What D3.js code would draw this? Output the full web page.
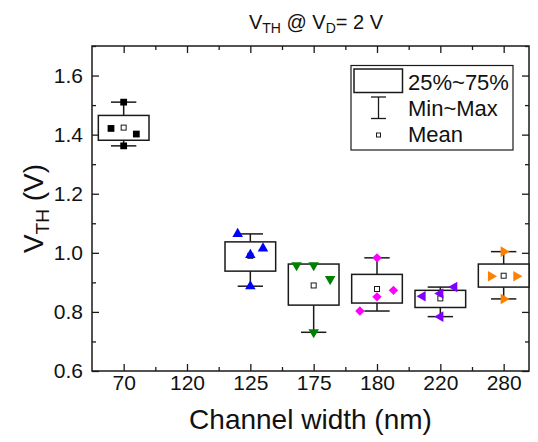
<!DOCTYPE html>
<html>
<head>
<meta charset="utf-8">
<script src="https://cdn.jsdelivr.net/npm/d3@7"></script>
<style>
  body { margin: 0; background: #fff; }
  svg { display: block; font-family: Arial, "Liberation Sans", sans-serif; }
</style>
</head>
<body>
<svg id="chart" width="538" height="442"></svg>
<script>
// ---- data ----
const categories = ["70", "120", "125", "175", "180", "220", "280"];
const vth70  = [1.510, 1.421, 1.402, 1.362];
const vth120 = [];
const vth125 = [1.064, 0.993, 1.015, 0.887];
const vth175 = [0.958, 0.958, 0.911, 0.731];
const vth180 = [0.983, 0.803, 0.851, 0.873];
const vth220 = [0.884, 0.853, 0.862, 0.784];
const vth280 = [1.004, 0.921, 0.921, 0.844];
// horizontal spread of the points inside a box (in category units)
const jitter70  = [0, -0.2, 0.2, 0];
const jitter120 = [];
const jitter125 = [-0.2, 0, 0.2, 0];
const jitter175 = [-0.27, 0, 0.26, 0];
const jitter180 = [0, -0.27, 0, 0.26];
const jitter220 = [0.22, -0.28, 0, 0];
const jitter280 = [0, -0.2, 0.2, 0];
// box edges (25% and 75%)
const q25 = [1.381, null, 0.938, 0.823, 0.830, 0.815, 0.884];
const q75 = [1.465, null, 1.037, 0.962, 0.927, 0.873, 0.962];
const yTicks = [0.6, 0.8, 1.0, 1.2, 1.4, 1.6];
const legendLabels = ["25%~75%", "Min~Max", "Mean"];

const seriesValues = [vth70, vth120, vth125, vth175, vth180, vth220, vth280];
const seriesJitter = [jitter70, jitter120, jitter125, jitter175, jitter180, jitter220, jitter280];
const colors = ["#000000", "#000000", "#0000ff", "#008000", "#ff00ff", "#8000ff", "#ff8000"];
const shapes = ["square", "square", "up", "down", "diamond", "left", "right"];

// ---- layout ----
const svg = d3.select("#chart");
const L = 92, R = 529, T = 46, B = 371;
const x = d3.scaleLinear().domain([0.5, 7.4]).range([L, R]);
const y = d3.scaleLinear().domain([0.6, 1.7]).range([B, T]);
const lineCol = "#1a1a1a";

// frame
svg.append("rect").attr("x", L).attr("y", T).attr("width", R - L).attr("height", B - T)
  .attr("fill", "none").attr("stroke", lineCol).attr("stroke-width", 1.5);

const idx = categories.map((d, i) => i + 1);
const minorX = d3.range(1.5, 7.4, 1);
const minorY = [0.7, 0.9, 1.1, 1.3, 1.5, 1.7];

function styleAxis(g) {
  g.select(".domain").remove();
  g.selectAll(".tick line").attr("stroke", lineCol).attr("stroke-width", 1.3);
  g.selectAll("text").attr("fill", "#111").attr("font-size", 21);
}

// bottom
svg.append("g").attr("transform", `translate(0,${B})`)
  .call(d3.axisBottom(x).tickValues(idx).tickFormat(i => categories[i - 1]).tickSize(-7).tickPadding(4))
  .call(styleAxis);
svg.append("g").attr("transform", `translate(0,${B})`)
  .call(d3.axisBottom(x).tickValues(minorX).tickFormat("").tickSize(-4)).call(styleAxis);
// top
svg.append("g").attr("transform", `translate(0,${T})`)
  .call(d3.axisTop(x).tickValues(idx).tickFormat("").tickSize(-7)).call(styleAxis);
svg.append("g").attr("transform", `translate(0,${T})`)
  .call(d3.axisTop(x).tickValues(minorX).tickFormat("").tickSize(-4)).call(styleAxis);
// left
svg.append("g").attr("transform", `translate(${L},0)`)
  .call(d3.axisLeft(y).tickValues(yTicks).tickFormat(d3.format(".1f")).tickSize(-7).tickPadding(9))
  .call(styleAxis);
svg.append("g").attr("transform", `translate(${L},0)`)
  .call(d3.axisLeft(y).tickValues(minorY).tickFormat("").tickSize(-4)).call(styleAxis);
// right
svg.append("g").attr("transform", `translate(${R},0)`)
  .call(d3.axisRight(y).tickValues(yTicks).tickFormat("").tickSize(-7)).call(styleAxis);
svg.append("g").attr("transform", `translate(${R},0)`)
  .call(d3.axisRight(y).tickValues(minorY).tickFormat("").tickSize(-4)).call(styleAxis);

// ---- boxes ----
const boxW = 0.8, capW = 0.4;
const plot = svg.append("g");

function symbolPath(shape) {
  if (shape === "square") return { d: d3.symbol(d3.symbolSquare, 46)(), rot: 0 };
  if (shape === "diamond") return { d: d3.symbol(d3.symbolSquare, 44)(), rot: 45 };
  const d = d3.symbol(d3.symbolTriangle, 48)();
  const rot = { up: 0, down: 180, left: -90, right: 90 }[shape];
  return { d, rot };
}

seriesValues.forEach((vals, i) => {
  if (!vals.length) return;
  const c = i + 1;
  const g = plot.append("g");
  const vmin = d3.min(vals), vmax = d3.max(vals), vmean = d3.mean(vals);
  // whiskers
  g.append("line").attr("x1", x(c)).attr("x2", x(c)).attr("y1", y(vmax)).attr("y2", y(q75[i]))
    .attr("stroke", lineCol).attr("stroke-width", 1.5);
  g.append("line").attr("x1", x(c)).attr("x2", x(c)).attr("y1", y(q25[i])).attr("y2", y(vmin))
    .attr("stroke", lineCol).attr("stroke-width", 1.5);
  [vmin, vmax].forEach(v => {
    g.append("line").attr("x1", x(c - capW / 2)).attr("x2", x(c + capW / 2))
      .attr("y1", y(v)).attr("y2", y(v)).attr("stroke", lineCol).attr("stroke-width", 1.5);
  });
  // box
  g.append("rect").attr("x", x(c - boxW / 2)).attr("y", y(q75[i]))
    .attr("width", x(c + boxW / 2) - x(c - boxW / 2)).attr("height", y(q25[i]) - y(q75[i]))
    .attr("fill", "#fff").attr("stroke", lineCol).attr("stroke-width", 1.5);
  // mean
  g.append("rect").attr("x", x(c) - 2.5).attr("y", y(vmean) - 2.5).attr("width", 5).attr("height", 5)
    .attr("fill", "#fff").attr("stroke", lineCol).attr("stroke-width", 1);
  // points
  const sp = symbolPath(shapes[i]);
  vals.forEach((v, k) => {
    g.append("path").attr("d", sp.d)
      .attr("transform", `translate(${x(c + seriesJitter[i][k])},${y(v)}) rotate(${sp.rot})`)
      .attr("fill", colors[i]);
  });
});

// ---- legend ----
const lg = svg.append("g");
lg.append("rect").attr("x", 351).attr("y", 65.5).attr("width", 162).attr("height", 84.5)
  .attr("fill", "#fff").attr("stroke", lineCol).attr("stroke-width", 1.2);
lg.append("rect").attr("x", 354).attr("y", 69).attr("width", 48.5).attr("height", 23.5)
  .attr("fill", "#fff").attr("stroke", lineCol).attr("stroke-width", 1.5);
const wx = 378.5;
lg.append("line").attr("x1", wx).attr("x2", wx).attr("y1", 97).attr("y2", 118.5).attr("stroke", lineCol).attr("stroke-width", 1.3);
[97, 118.5].forEach(yy => lg.append("line").attr("x1", wx - 7.5).attr("x2", wx + 7.5).attr("y1", yy).attr("y2", yy)
  .attr("stroke", lineCol).attr("stroke-width", 1.3));
lg.append("rect").attr("x", wx - 2).attr("y", 133).attr("width", 4).attr("height", 4)
  .attr("fill", "#fff").attr("stroke", lineCol).attr("stroke-width", 1);
[89.5, 115.5, 141.5].forEach((by, k) => {
  lg.append("text").attr("x", 408).attr("y", by).attr("font-size", 22).attr("fill", "#111").text(legendLabels[k]);
});

// ---- titles ----
const title = svg.append("text").attr("x", 316).attr("y", 29).attr("text-anchor", "middle")
  .attr("font-size", 20).attr("fill", "#111");
title.append("tspan").text("V");
title.append("tspan").attr("font-size", 14).attr("dy", 4).text("TH");
title.append("tspan").attr("dy", -4).text(" @ V");
title.append("tspan").attr("font-size", 14).attr("dy", 4).text("D");
title.append("tspan").attr("dy", -4).text("= 2 V");

svg.append("text").attr("x", (L + R) / 2).attr("y", 429).attr("text-anchor", "middle")
  .attr("font-size", 28).attr("fill", "#111").text("Channel width (nm)");

const yl = svg.append("text").attr("transform", `translate(43,${(T + B) / 2}) rotate(-90)`)
  .attr("text-anchor", "middle").attr("font-size", 28).attr("fill", "#111");
yl.append("tspan").text("V");
yl.append("tspan").attr("font-size", 19).attr("dy", 6).text("TH");
yl.append("tspan").attr("dy", -6).text(" (V)");
</script>
</body>
</html>
